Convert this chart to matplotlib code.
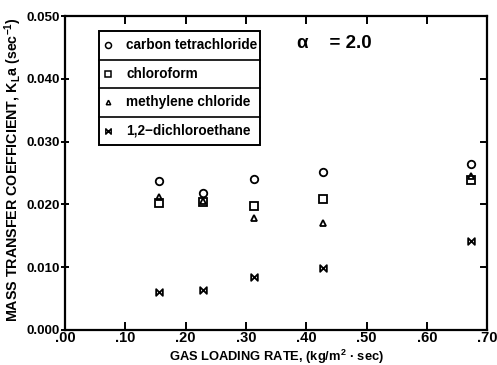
import matplotlib
matplotlib.use("Agg")
import matplotlib.pyplot as plt
from matplotlib.path import Path

# Gas loading rate (kg/m^2 sec)
gas_loading = [0.155, 0.229, 0.314, 0.428, 0.673]

# Mass transfer coefficient KLa (1/sec) for each compound
carbon_tetrachloride = [0.0237, 0.0218, 0.0240, 0.0252, 0.0264]
chloroform = [0.0202, 0.0204, 0.0198, 0.0208, 0.0239]
methylene_chloride = [0.0211, 0.0205, 0.0179, 0.0171, 0.0245]
dichloroethane = [0.0060, 0.0063, 0.0084, 0.0098, 0.0142]

labels = ["carbon tetrachloride", "chloroform", "methylene chloride",
          "1,2\u2212dichloroethane"]

x_ticks = [0.0, 0.1, 0.2, 0.3, 0.4, 0.5, 0.6, 0.7]
x_ticklabels = [".00", ".10", ".20", ".30", ".40", ".50", ".60", ".70"]
y_ticks = [0.0, 0.01, 0.02, 0.03, 0.04, 0.05]
y_ticklabels = ["0.000", "0.010", "0.020", "0.030", "0.040", "0.050"]

plt.rcParams["font.family"] = ["Liberation Sans", "DejaVu Sans"]
plt.rcParams["mathtext.fontset"] = "custom"
plt.rcParams["mathtext.rm"] = "Liberation Sans:bold"
plt.rcParams["mathtext.bf"] = "Liberation Sans:bold"
plt.rcParams["mathtext.it"] = "Liberation Sans:bold"

# bow-tie marker (two triangles meeting at the centre)
bowtie = Path([(-1, 1), (-1, -1), (1, 1), (1, -1), (-1, 1)],
              [Path.MOVETO, Path.LINETO, Path.LINETO, Path.LINETO, Path.CLOSEPOLY])

fig = plt.figure(figsize=(4.97, 3.65), dpi=100)
ax = fig.add_axes([0.131, 0.096, 0.849, 0.860])

style = dict(linestyle="none", color="black", markerfacecolor="none",
             markeredgewidth=1.3, clip_on=False)
series = [
    (carbon_tetrachloride, "o", 5.4),
    (chloroform, "s", 5.2),
    (methylene_chloride, "^", 4.0),
    (dichloroethane, bowtie, 4.8),
]
for values, marker, ms in series:
    ax.plot(gas_loading, values, marker=marker, markersize=ms, **style)

ax.set_xlim(0, 0.7)
ax.set_ylim(0, 0.05)
ax.set_xticks(x_ticks)
ax.set_xticklabels(x_ticklabels)
ax.set_yticks(y_ticks)
ax.set_yticklabels(y_ticklabels)

for s in ax.spines.values():
    s.set_linewidth(1.6)
ax.tick_params(axis="x", direction="in", length=6, width=1.4, top=True,
               labelsize=10.5, pad=1)
ax.tick_params(axis="y", direction="inout", length=6, width=1.4, right=False,
               labelsize=9.6, pad=1)
for lbl in ax.get_xticklabels() + ax.get_yticklabels():
    lbl.set_fontweight("bold")

# inward ticks on the right-hand spine
for yv in y_ticks[1:-1]:
    ax.plot([0.985, 1.0], [yv, yv], transform=ax.get_yaxis_transform(),
            color="black", linewidth=1.4, clip_on=False)

ax.set_xlabel("GAS LOADING RATE, (kg/m$^{2}$ \u00b7 sec)", fontsize=9.3,
              fontweight="bold")
ax.xaxis.set_label_coords(0.5, -0.057)
ax.set_ylabel("MASS TRANSFER COEFFICIENT, K$_{L}$a (sec$^{-1}$)", fontsize=10.3,
              fontweight="bold")
ax.yaxis.set_label_coords(-0.097, 0.51)

# boxed key with one row per compound
x0, x1 = 0.081, 0.462
y_top, y_bot = 0.952, 0.589
ax.add_patch(plt.Rectangle((x0, y_bot), x1 - x0, y_top - y_bot,
                           transform=ax.transAxes, fill=False,
                           linewidth=1.4, edgecolor="black"))
row_h = (y_top - y_bot) / 4
for i, ((_, marker, ms), text) in enumerate(zip(series, labels)):
    yc = y_top - row_h * (i + 0.5)
    if i > 0:
        ax.plot([x0, x1], [y_top - row_h * i] * 2, transform=ax.transAxes,
                color="black", linewidth=1.2)
    ax.plot([0.102], [yc], transform=ax.transAxes, marker=marker,
            markersize=ms * 0.8, linestyle="none", color="black",
            markerfacecolor="none", markeredgewidth=1.1)
    ax.text(0.145, yc, text, transform=ax.transAxes, fontsize=9.8,
            fontweight="bold", va="center", ha="left")

ax.text(0.55, 0.911, "\u03b1    = 2.0", transform=ax.transAxes, fontsize=13.5,
        fontweight="bold", va="center", ha="left")

fig.savefig("out.png", dpi=100)
